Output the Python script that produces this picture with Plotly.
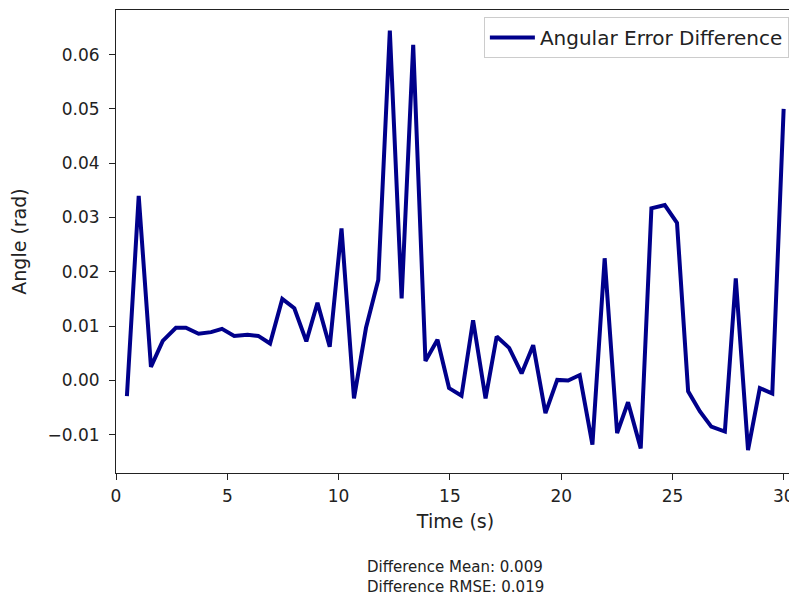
import plotly.graph_objects as go

time_s = [0.49, 1.02, 1.57, 2.10, 2.69, 3.14, 3.71, 4.27, 4.76, 5.31,
          5.91, 6.39, 6.92, 7.47, 8.01, 8.55, 9.05, 9.60, 10.13, 10.69,
          11.23, 11.78, 12.30, 12.83, 13.35, 13.90, 14.44, 14.96, 15.52, 16.04,
          16.60, 17.10, 17.66, 18.22, 18.74, 19.29, 19.82, 20.31, 20.83, 21.40,
          21.95, 22.51, 23.00, 23.57, 24.05, 24.65, 25.20, 25.70, 26.23, 26.74,
          27.35, 27.84, 28.39, 28.92, 29.48, 29.99]
angle_diff = [-0.0029, 0.0340, 0.0025, 0.0073, 0.0097, 0.0097, 0.0086, 0.0089, 0.0095, 0.0082,
              0.0084, 0.0082, 0.0068, 0.0150, 0.0133, 0.0072, 0.0143, 0.0062, 0.0280, -0.0033,
              0.0097, 0.0185, 0.0644, 0.0151, 0.0618, 0.0036, 0.0075, -0.0014, -0.0028, 0.0111,
              -0.0033, 0.0081, 0.0060, 0.0013, 0.0065, -0.0060, 0.0001, 0.0000, 0.0010, -0.0118,
              0.0225, -0.0097, -0.0040, -0.0125, 0.0317, 0.0323, 0.0290, -0.0020, -0.0057, -0.0085,
              -0.0094, 0.0188, -0.0128, -0.0014, -0.0024, 0.0500]
x_ticks = [0, 5, 10, 15, 20, 25, 30]
y_ticks = [-0.01, 0.00, 0.01, 0.02, 0.03, 0.04, 0.05, 0.06]
stats_lines = ["Difference Mean: 0.009", "Difference RMSE: 0.019"]

FONT = "DejaVu Sans"
TXT = "#222222"

fig = go.Figure()
fig.add_trace(go.Scatter(
    x=time_s, y=angle_diff, mode="lines", name="Angular Error Difference",
    line=dict(color="#00008B", width=4),
))

axis_common = dict(
    showline=True, linecolor=TXT, linewidth=1, mirror=True,
    ticks="outside", ticklen=6, tickwidth=1, tickcolor=TXT,
    showgrid=False, zeroline=False,
    tickfont=dict(family=FONT, size=17, color=TXT),
)

# page body has an 8px default margin, so the figure is sized to fit the window
fig.update_layout(
    width=789, height=589,
    margin=dict(l=108, r=2, t=2, b=124),
    paper_bgcolor="white", plot_bgcolor="white",
    font=dict(family=FONT, color=TXT),
    showlegend=True,
    legend=dict(
        x=0.991, y=0.985, xanchor="right", yanchor="top",
        bgcolor="rgba(255,255,255,0.8)", bordercolor="#cccccc", borderwidth=1,
        itemwidth=45,
        font=dict(family=FONT, size=20, color=TXT),
    ),
    xaxis=dict(range=[0, 30.5], tickvals=x_ticks, ticktext=[str(v) for v in x_ticks],
               ticklabelstandoff=2,
               title=dict(text="Time (s)", font=dict(family=FONT, size=19, color=TXT), standoff=9),
               **axis_common),
    yaxis=dict(range=[-0.01703, 0.0682], tickvals=y_ticks, tickformat=".2f",
               ticklabelstandoff=6,
               title=dict(text="Angle (rad)", font=dict(family=FONT, size=19, color=TXT), standoff=16),
               **axis_common),
    annotations=[dict(
        text="<br>".join(stats_lines), xref="paper", yref="paper", x=0.5, y=-0.182,
        xanchor="center", yanchor="top", showarrow=False, borderpad=0, align="left",
        font=dict(family=FONT, size=15, color=TXT),
    )],
)

fig.write_html("out.html")
